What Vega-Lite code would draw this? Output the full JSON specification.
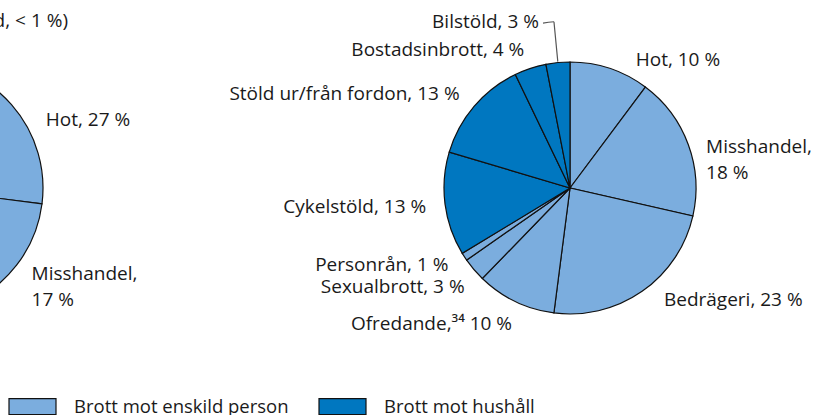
{
  "$schema": "https://vega.github.io/schema/vega-lite/v6.json",
  "width": 816,
  "height": 376,
  "autosize": "none",
  "padding": {"left": 0, "top": 0, "right": 0, "bottom": 39},
  "background": "white",
  "config": {"view": {"stroke": null}, "font": "Open Sans", "text": {"font": "Open Sans", "fontSize": 19, "color": "#1a1a1a"}},
  "title": {"text": "(Bilstöld, < 1 %)", "anchor": "start", "frame": "group", "align": "right", "dx": 68, "baseline": "alphabetic", "offset": 0, "dy": 46, "fontSize": 19, "fontWeight": "normal", "font": "Open Sans", "color": "#1a1a1a"},
  "data": {"values": [
    {"pie": "Vänster", "order": 1, "brott": "Hot", "typ": "Brott mot enskild person", "andel": 27, "etikett": "Hot, 27 %"},
    {"pie": "Vänster", "order": 2, "brott": "Misshandel", "typ": "Brott mot enskild person", "andel": 17, "etikett": "Misshandel,\n17 %"},
    {"pie": "Vänster", "order": 3, "brott": "Ofredande", "typ": "Brott mot enskild person", "andel": 33, "etikett": ""},
    {"pie": "Vänster", "order": 4, "brott": "Sexualbrott", "typ": "Brott mot enskild person", "andel": 12, "etikett": ""},
    {"pie": "Vänster", "order": 5, "brott": "Personrån", "typ": "Brott mot enskild person", "andel": 5, "etikett": ""},
    {"pie": "Vänster", "order": 6, "brott": "Bedrägeri", "typ": "Brott mot enskild person", "andel": 6, "etikett": ""},
    {"pie": "Höger", "order": 1, "brott": "Hot", "typ": "Brott mot enskild person", "andel": 10, "etikett": "Hot, 10 %"},
    {"pie": "Höger", "order": 2, "brott": "Misshandel", "typ": "Brott mot enskild person", "andel": 18, "etikett": "Misshandel,\n18 %"},
    {"pie": "Höger", "order": 3, "brott": "Bedrägeri", "typ": "Brott mot enskild person", "andel": 23, "etikett": "Bedrägeri, 23 %"},
    {"pie": "Höger", "order": 4, "brott": "Ofredande", "typ": "Brott mot enskild person", "andel": 10, "etikett": "Ofredande,³⁴ 10 %"},
    {"pie": "Höger", "order": 5, "brott": "Sexualbrott", "typ": "Brott mot enskild person", "andel": 3, "etikett": "Sexualbrott, 3 %"},
    {"pie": "Höger", "order": 6, "brott": "Personrån", "typ": "Brott mot enskild person", "andel": 1, "etikett": "Personrån, 1 %"},
    {"pie": "Höger", "order": 7, "brott": "Cykelstöld", "typ": "Brott mot hushåll", "andel": 13, "etikett": "Cykelstöld, 13 %"},
    {"pie": "Höger", "order": 8, "brott": "Stöld ur/från fordon", "typ": "Brott mot hushåll", "andel": 13, "etikett": "Stöld ur/från fordon, 13 %"},
    {"pie": "Höger", "order": 9, "brott": "Bostadsinbrott", "typ": "Brott mot hushåll", "andel": 4, "etikett": "Bostadsinbrott, 4 %"},
    {"pie": "Höger", "order": 10, "brott": "Bilstöld", "typ": "Brott mot hushåll", "andel": 3, "etikett": "Bilstöld, 3 %"}
  ]},
  "transform": [
    {"stack": "andel", "groupby": ["pie"], "sort": [{"field": "order", "order": "ascending"}], "offset": "normalize", "as": ["t0", "t1"]},
    {"calculate": "(datum.t0 + datum.t1) / 2", "as": "mid"}
  ],
  "encoding": {
    "x": {"field": "pie", "type": "nominal", "scale": {"type": "point", "domain": ["Vänster", "Höger"], "range": [-83, 570], "padding": 0}, "axis": null}
  },
  "layer": [
    {
      "mark": {"type": "arc", "outerRadius": 126, "stroke": "#111111", "strokeWidth": 1.2},
      "encoding": {
        "theta": {"field": "t0", "type": "quantitative", "scale": {"domain": [0, 1]}},
        "theta2": {"field": "t1"},
        "color": {"field": "typ", "type": "nominal", "scale": {"domain": ["Brott mot enskild person", "Brott mot hushåll"], "range": ["#7badde", "#0077c0"]},
          "legend": {"orient": "none", "legendX": 8, "legendY": 382, "direction": "horizontal", "title": null, "symbolType": "M-1,-0.34L1,-0.34L1,0.34L-1,0.34Z", "symbolSize": 2209, "symbolStrokeColor": "#111111", "symbolStrokeWidth": 1.2, "labelFontSize": 18.5, "labelFont": "Open Sans", "labelColor": "#1a1a1a", "labelOffset": 17, "columnPadding": 27, "labelLimit": 400}}
      }
    },
    {
      "transform": [{"filter": "datum.brott == 'Misshandel' && datum.pie == 'Höger'"}],
      "mark": {"type": "text", "radius": 145, "align": "left", "baseline": "top", "lineBreak": "\n", "lineHeight": 26},
      "encoding": {"theta": {"field": "mid", "type": "quantitative"}, "text": {"field": "etikett"}}
    },
    {
      "transform": [{"filter": "datum.brott == 'Misshandel' && datum.pie == 'Vänster'"}],
      "mark": {"type": "text", "radius": 145, "align": "left", "baseline": "top", "lineBreak": "\n", "lineHeight": 26, "dy": -12},
      "encoding": {"theta": {"field": "mid", "type": "quantitative"}, "text": {"field": "etikett"}}
    },
    {
      "transform": [{"filter": "datum.brott == 'Bedrägeri' && datum.pie == 'Höger'"}],
      "mark": {"type": "text", "radius": 145, "align": "left", "baseline": "middle", "dx": 11, "dy": -7},
      "encoding": {"theta": {"field": "mid", "type": "quantitative"}, "text": {"field": "etikett"}}
    },
    {
      "transform": [{"filter": "datum.brott == 'Hot' && datum.pie == 'Höger'"}],
      "mark": {"type": "text", "radius": 145, "align": "left", "baseline": "middle", "dx": 20, "dy": 10},
      "encoding": {"theta": {"field": "mid", "type": "quantitative"}, "text": {"field": "etikett"}}
    },
    {
      "transform": [{"filter": "datum.brott == 'Hot' && datum.pie == 'Vänster'"}],
      "mark": {"type": "text", "radius": 145, "align": "left", "baseline": "middle", "dx": 20, "dy": 28},
      "encoding": {"theta": {"field": "mid", "type": "quantitative"}, "text": {"field": "etikett"}}
    },
    {
      "transform": [{"filter": "datum.mid >= 0.5 && datum.etikett != '' && datum.brott != 'Bilstöld' && datum.brott != 'Ofredande' && datum.brott != 'Sexualbrott' && datum.brott != 'Personrån'"}],
      "mark": {"type": "text", "radius": 145, "align": "right", "baseline": "middle"},
      "encoding": {"theta": {"field": "mid", "type": "quantitative"}, "text": {"field": "etikett"}}
    },
    {
      "transform": [{"filter": "datum.pie == 'Höger' && datum.brott == 'Personrån'"}],
      "mark": {"type": "text", "radius": 145, "align": "right", "baseline": "middle", "dy": -2},
      "encoding": {"theta": {"field": "mid", "type": "quantitative"}, "text": {"field": "etikett"}}
    },
    {
      "transform": [{"filter": "datum.pie == 'Höger' && (datum.brott == 'Ofredande' || datum.brott == 'Sexualbrott')"}],
      "mark": {"type": "text", "radius": 145, "align": "right", "baseline": "middle", "dx": 5, "dy": 5},
      "encoding": {"theta": {"field": "mid", "type": "quantitative"}, "text": {"field": "etikett"}}
    },
    {
      "transform": [{"filter": "datum.brott == 'Bilstöld'"}],
      "mark": {"type": "text", "radius": 167, "align": "right", "baseline": "middle", "dx": -15},
      "encoding": {"theta": {"field": "mid", "type": "quantitative"}, "text": {"field": "etikett"}}
    },
    {
      "transform": [{"filter": "datum.brott == 'Bilstöld'"}],
      "mark": {"type": "arc", "radius": 167, "radius2": 127, "fill": null, "stroke": "#555555", "strokeWidth": 1.2},
      "encoding": {"theta": {"field": "mid", "type": "quantitative"}, "theta2": {"field": "mid"}}
    },
    {
      "transform": [{"filter": "datum.brott == 'Bilstöld'"}, {"calculate": "datum.mid - 0.0105", "as": "tick"}],
      "mark": {"type": "arc", "radius": 167, "radius2": 167, "fill": null, "stroke": "#555555", "strokeWidth": 1.2},
      "encoding": {"theta": {"field": "tick", "type": "quantitative"}, "theta2": {"field": "mid"}}
    }
  ]
}
